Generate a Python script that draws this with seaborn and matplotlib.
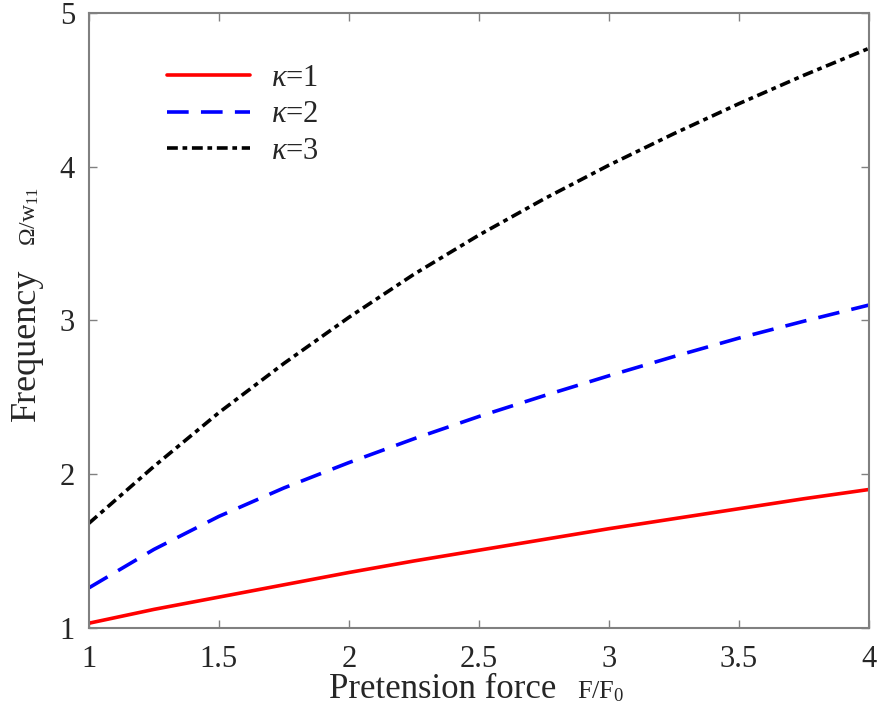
import numpy as np
import pandas as pd
import matplotlib
matplotlib.use("Agg")
import matplotlib.pyplot as plt
import seaborn as sns

# ---- data ----
force = [1.0, 1.25, 1.5, 1.75, 2.0, 2.25, 2.5, 2.75, 3.0, 3.25, 3.5, 3.75, 4.0]
kappa1 = [1.03, 1.12, 1.20, 1.28, 1.36, 1.435, 1.505, 1.575, 1.645, 1.71, 1.775, 1.84, 1.90]
kappa2 = [1.26, 1.51, 1.725, 1.91, 2.075, 2.23, 2.375, 2.51, 2.64, 2.765, 2.885, 2.995, 3.10]
kappa3 = [1.68, 2.05, 2.40, 2.72, 3.02, 3.30, 3.555, 3.79, 4.01, 4.215, 4.41, 4.595, 4.77]
series_labels = [r"$\kappa$=1", r"$\kappa$=2", r"$\kappa$=3"]
x_ticks = [1, 1.5, 2, 2.5, 3, 3.5, 4]
x_tick_labels = ["1", "1.5", "2", "2.5", "3", "3.5", "4"]
y_ticks = [1, 2, 3, 4, 5]
y_tick_labels = ["1", "2", "3", "4", "5"]

n = len(force)
df = pd.DataFrame({
    "F": force * 3,
    "val": kappa1 + kappa2 + kappa3,
    "kappa": [series_labels[0]] * n + [series_labels[1]] * n + [series_labels[2]] * n,
})

sns.set_theme(style="white")
SERIF = ["Liberation Serif", "DejaVu Serif"]
plt.rcParams["font.family"] = SERIF
plt.rcParams["mathtext.fontset"] = "custom"
plt.rcParams["mathtext.rm"] = "Liberation Serif"
plt.rcParams["mathtext.it"] = "Liberation Serif:italic"

fig = plt.figure(figsize=(8.8, 7.2), dpi=100)
ax = fig.add_axes([0.101, 0.128, 0.8865, 0.854])

lw = 2.6
sns.lineplot(data=df, x="F", y="val", hue="kappa", style="kappa",
             palette={series_labels[0]: "#ff0000", series_labels[1]: "#0000ff", series_labels[2]: "#000000"},
             dashes={series_labels[0]: "", series_labels[1]: (6.0, 3.4), series_labels[2]: (3.0, 1.3, 1.3, 1.3)},
             linewidth=lw, ax=ax, legend=True)

ax.set_xlim(1, 4)
ax.set_ylim(1, 5)
ax.set_xticks(x_ticks)
ax.set_xticklabels(x_tick_labels, fontfamily=SERIF)
ax.set_yticks(y_ticks)
ax.set_yticklabels(y_tick_labels, fontfamily=SERIF)
ax.tick_params(direction="in", length=6, width=1.0, color="#808080",
               labelsize=22, labelcolor="#262626", top=True, right=True,
               bottom=True, left=True)
ax.tick_params(axis="x", pad=12)
ax.tick_params(axis="y", pad=10)
for s in ax.spines.values():
    s.set_color("#808080")
    s.set_linewidth(1.5)
ax.set_xlabel("")
ax.set_ylabel("")

handles, labels = ax.get_legend_handles_labels()
leg = ax.legend(handles, labels, frameon=False, loc="upper left",
                bbox_to_anchor=(0.065, 0.962), handlelength=2.7,
                handletextpad=0.7, labelspacing=0.25,
                prop={"family": SERIF, "size": 22})
for t in leg.get_texts():
    t.set_color("#262626")

# axis labels
fig.text(0.374, 0.030, "Pretension force", fontsize=25, color="#262626", ha="left", va="baseline")
fig.text(0.656, 0.030, r"F/F$_0$", fontsize=19, color="#262626", ha="left", va="baseline")
fig.text(0.030, 0.521, "Frequency", fontsize=26, color="#262626", rotation=90, ha="center", va="center")
fig.text(0.034, 0.699, r"$\Omega$/w$_{11}$", fontsize=17, color="#262626", rotation=90, ha="center", va="center")

fig.savefig("out.png", dpi=100)
